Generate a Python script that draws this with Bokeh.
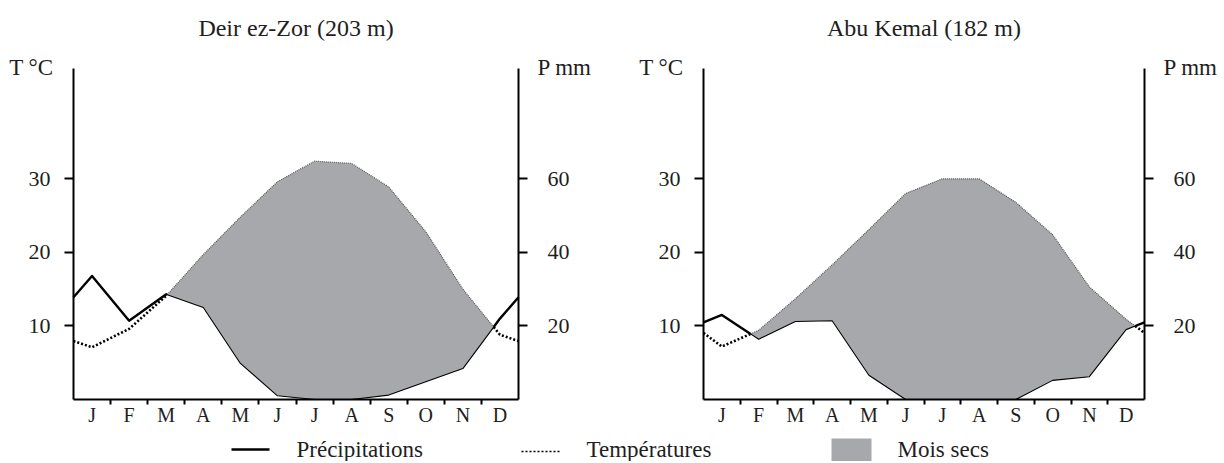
import numpy as np
from bokeh.plotting import figure
from bokeh.models import Range1d, LinearAxis, FixedTicker, Label
from bokeh.layouts import column, row
from bokeh.embed import file_html
from bokeh.resources import INLINE
from bokeh.core.properties import value

# ---------------- data ----------------
months = ["J", "F", "M", "A", "M", "J", "J", "A", "S", "O", "N", "D"]

deir_title = "Deir ez-Zor (203 m)"
deir_temp = [7.1, 9.6, 14.1, 19.7, 24.8, 29.6, 32.4, 32.1, 28.9, 22.8, 15.0, 8.8]   # °C
deir_prec = [33.6, 21.4, 28.6, 25.0, 9.8, 1.0, 0.0, 0.0, 1.2, 4.8, 8.4, 22.0]        # mm

abu_title = "Abu Kemal (182 m)"
abu_temp = [7.2, 9.4, 13.7, 18.3, 23.1, 28.0, 30.0, 30.0, 26.8, 22.4, 15.3, 10.9]   # °C
abu_prec = [23.0, 16.4, 21.2, 21.4, 6.6, 0.0, 0.0, 0.0, 0.0, 5.2, 6.2, 19.0]        # mm

temp_ticks = [10, 20, 30]
prec_ticks = [20, 40, 60]
legend_labels = ["Précipitations", "Températures", "Mois secs"]

FONT = "Liberation Serif"
TXT = "#1e1e1e"
GREY = "#a6a8ab"
T_MAX = 45.0

# layout (page pixels)
ORIGIN = 1
CHART_TOP, CHART_BOTTOM = ORIGIN, 430
AXIS_TOP, AXIS_BOTTOM = 69, 400
PY = (AXIS_BOTTOM - AXIS_TOP) / T_MAX
BASE_FIX = 7  # alphabetic baseline correction of the svg text


def cyclic(vals):
    v = np.asarray(vals, float)
    edge = (v[0] + v[-1]) / 2.0
    x = np.concatenate([[0.0], np.arange(12) + 0.5, [12.0]])
    y = np.concatenate([[edge], v, [edge]])
    return x, y


def with_crossings(temp, prec):
    x, t = cyclic(temp)
    _, p = cyclic(prec)
    p = p / 2.0  # Gaussen: P = 2T
    X, T, P = [], [], []
    for i in range(len(x) - 1):
        X.append(x[i]); T.append(t[i]); P.append(p[i])
        d0, d1 = t[i] - p[i], t[i + 1] - p[i + 1]
        if d0 * d1 < 0:
            f = d0 / (d0 - d1)
            X.append(x[i] + f * (x[i + 1] - x[i]))
            T.append(t[i] + f * (t[i + 1] - t[i]))
            P.append(p[i] + f * (p[i + 1] - p[i]))
    X.append(x[-1]); T.append(t[-1]); P.append(p[-1])
    return np.array(X), np.array(T), np.array(P)


def runs(X, Y, mask):
    """split a polyline into runs of segments where mask (per segment) is True"""
    xs, ys = [], []
    cur_x, cur_y = None, None
    for i in range(len(X) - 1):
        if mask[i]:
            if cur_x is None:
                cur_x, cur_y = [X[i]], [Y[i]]
            cur_x.append(X[i + 1]); cur_y.append(Y[i + 1])
        else:
            if cur_x is not None:
                xs.append(cur_x); ys.append(cur_y)
                cur_x = None
    if cur_x is not None:
        xs.append(cur_x); ys.append(cur_y)
    return xs, ys


def climate_chart(title, temp, prec, fig_left, fig_right, ax_left, ax_right):
    px = (ax_right - ax_left) / 12.0
    y0 = (AXIS_BOTTOM - CHART_BOTTOM) / PY
    y1 = (AXIS_BOTTOM - CHART_TOP) / PY
    p = figure(width=fig_right - fig_left, height=CHART_BOTTOM - CHART_TOP,
               output_backend="svg", toolbar_location=None,
               x_range=Range1d((fig_left - ax_left) / px, (fig_right - ax_left) / px),
               y_range=Range1d(y0, y1),
               x_axis_location=None, y_axis_location=None,
               min_border=0, outline_line_color=None,
               background_fill_color="white", border_fill_color="white")
    p.grid.grid_line_color = None
    p.extra_y_ranges = {"p": Range1d(2 * y0, 2 * y1)}

    X, T, P = with_crossings(temp, prec)
    dry_seg = ((T[:-1] - P[:-1]) + (T[1:] - P[1:])) > 0
    wet_seg = ~dry_seg

    # dry months
    p.varea(x=X, y1=P, y2=np.maximum(T, P), fill_color=GREY)

    # temperature (dotted)
    xs, ys = runs(X, T, dry_seg)
    p.multi_line(xs, ys, line_color="#555555", line_width=1.2, line_dash="1 1")
    xs, ys = runs(X, T, wet_seg)
    p.multi_line(xs, ys, line_color="black", line_width=2.6, line_dash="2 2")

    # precipitation (solid)
    xs, ys = runs(X, P, dry_seg)
    p.multi_line(xs, ys, line_color="black", line_width=1.1, line_join="round")
    xs, ys = runs(X, P, wet_seg)
    p.multi_line(xs, ys, line_color="black", line_width=2.4, line_join="round")

    common = dict(axis_line_width=2, axis_line_color="black",
                  major_tick_line_width=2, major_tick_in=0, major_tick_out=9,
                  minor_tick_line_color=None,
                  major_label_text_font=FONT, major_label_text_font_size="22px",
                  major_label_text_color=TXT)
    left = LinearAxis(ticker=FixedTicker(ticks=temp_ticks), fixed_location=0,
                      bounds=(0, T_MAX), major_label_standoff=14, **common)
    right = LinearAxis(y_range_name="p", ticker=FixedTicker(ticks=prec_ticks),
                       fixed_location=12, bounds=(0, 2 * T_MAX),
                       major_label_standoff=20, **common)
    p.add_layout(left, "left")
    p.add_layout(right, "right")

    centers = [i + 0.5 for i in range(12)]
    bottom = LinearAxis(ticker=FixedTicker(ticks=centers, minor_ticks=list(range(1, 12))),
                        fixed_location=0, bounds=(0, 12),
                        axis_line_width=2, axis_line_color="black",
                        major_tick_line_color=None, major_tick_in=0, major_tick_out=0,
                        minor_tick_line_color="black", minor_tick_line_width=2,
                        minor_tick_in=0, minor_tick_out=5,
                        major_label_overrides={c: m for c, m in zip(centers, months)},
                        major_label_text_font=FONT, major_label_text_font_size="20px",
                        major_label_text_color=TXT, major_label_standoff=-1)
    p.add_layout(bottom, "below")

    p.add_layout(Label(x=6, y=T_MAX, text=title, text_align="center",
                       text_baseline="alphabetic", y_offset=AXIS_TOP - 35 + BASE_FIX,
                       text_font=FONT, text_font_size="24px", text_color=TXT))
    p.add_layout(Label(x=0, y=T_MAX, text="T °C", text_align="right",
                       text_baseline="alphabetic", x_offset=-20,
                       y_offset=AXIS_TOP - 75 + BASE_FIX,
                       text_font=FONT, text_font_size="23px", text_color=TXT))
    p.add_layout(Label(x=12, y=T_MAX, text="P mm", text_align="left",
                       text_baseline="alphabetic", x_offset=19,
                       y_offset=AXIS_TOP - 75 + BASE_FIX,
                       text_font=FONT, text_font_size="23px", text_color=TXT))
    return p


p1 = climate_chart(deir_title, deir_temp, deir_prec, ORIGIN, 612, 74, 519)
p2 = climate_chart(abu_title, abu_temp, abu_prec, 612, 1223, 704, 1145)

# ---------------- legend strip ----------------
LEG_TOP, LEG_BOTTOM = CHART_BOTTOM, 462
leg = figure(width=1223 - ORIGIN, height=LEG_BOTTOM - LEG_TOP, output_backend="svg",
             toolbar_location=None,
             x_range=Range1d(ORIGIN, 1223), y_range=Range1d(LEG_BOTTOM, LEG_TOP),
             x_axis_location=None, y_axis_location=None,
             min_border=0, outline_line_color=None,
             background_fill_color="white", border_fill_color="white")
leg.grid.grid_line_color = None
leg.line([232, 270], [450, 450], line_color="black", line_width=2.6)
leg.line([522, 562], [452, 452], line_color="black", line_width=1.6, line_dash="2 2")
leg.quad(left=[832], right=[872], top=[439], bottom=[462], fill_color=GREY, line_color=None)
leg.text(x=[297, 587, 898], y=[457 - BASE_FIX] * 3, text=legend_labels,
         text_font=value(FONT), text_font_size="23px", text_color=TXT,
         text_baseline="alphabetic")

layout = column(row(p1, p2), leg)
open("out.html", "w").write(file_html(layout, INLINE))
